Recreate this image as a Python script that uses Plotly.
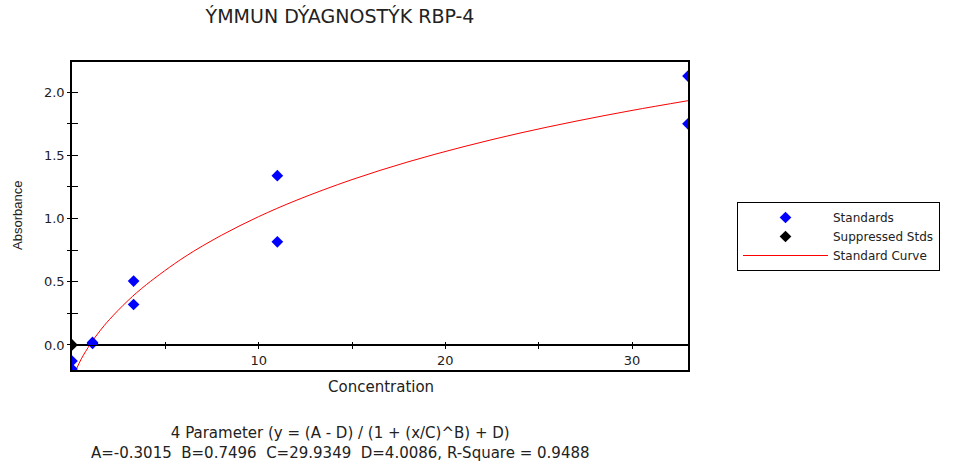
import plotly.graph_objects as go

# ---- data ----
std_x = [0, 0, 1.1, 1.1, 3.3, 3.3, 11, 11, 33, 33]
std_y = [-0.127, -0.190, 0.02, 0.012, 0.505, 0.32, 1.339, 0.816, 2.127, 1.749]

sup_x = [0]
sup_y = [0]

curve_x = [0.25, 0.5, 1, 1.5, 2, 3, 4, 6, 8, 10, 12, 15, 18, 21, 24, 27, 30, 33]
curve_y = [-0.186, -0.110, 0.011, 0.112, 0.200, 0.351, 0.479, 0.693, 0.867, 1.015,
           1.143, 1.308, 1.448, 1.569, 1.676, 1.770, 1.855, 1.932]

x_tickvals = [5, 10, 15, 20, 25, 30]
x_ticktext = ["", "10", "", "20", "", "30"]
y_tickvals = [0.0, 0.5, 1.0, 1.5, 2.0]
y_ticktext = ["0.0", "0.5", "1.0", "1.5", "2.0"]

title_text = "ÝMMUN DÝAGNOSTÝK RBP-4"
formula_text = ("4 Parameter (y = (A - D) / (1 + (x/C)^B) + D)<br>"
                "A=-0.3015  B=0.7496  C=29.9349  D=4.0086, R-Square = 0.9488")

XR = [0, 33]
YR = [-0.198, 2.238]
FONT = "DejaVu Sans, Verdana, sans-serif"
NARROW = "Liberation Sans, Arial, sans-serif"
TXT = "#222"

fig = go.Figure()
fig.add_trace(go.Scatter(x=curve_x, y=curve_y, mode="lines", name="Standard Curve",
                         line=dict(color="#FF0000", width=1, shape="spline"),
                         legendrank=3))
fig.add_trace(go.Scatter(x=std_x, y=std_y, mode="markers", name="Standards",
                         marker=dict(symbol="diamond", size=9, color="#0000FF"),
                         legendrank=1))
fig.add_trace(go.Scatter(x=sup_x, y=sup_y, mode="markers", name="Suppressed Stds",
                         marker=dict(symbol="diamond", size=9, color="#000000"),
                         legendrank=2))

pos0 = (0 - YR[0]) / (YR[1] - YR[0])

fig.update_layout(
    width=979, height=463, autosize=False,
    margin=dict(l=72, r=291, t=62, b=93),
    paper_bgcolor="white", plot_bgcolor="white",
    font=dict(family=FONT, size=13, color=TXT),
    title=dict(text=title_text, x=340 / 979, xanchor="center", xref="container",
               y=1 - 16 / 463, yanchor="middle", yref="container",
               font=dict(family=FONT, size=19, color=TXT)),
    xaxis=dict(range=XR, anchor="free", position=pos0, showgrid=False,
               showline=True, linecolor="black", linewidth=1,
               tickvals=x_tickvals, ticktext=x_ticktext,
               ticks="outside", ticklen=3, tickcolor="black",
               tickfont=dict(family=FONT, size=13, color=TXT), zeroline=False),
    xaxis2=dict(range=XR, overlaying="x", anchor="y", showgrid=False,
                showline=True, mirror=True, linecolor="black", linewidth=1.5,
                showticklabels=False, ticks="", zeroline=False),
    xaxis3=dict(range=XR, overlaying="x", anchor="free", position=pos0,
                showgrid=False, showline=False, tickvals=x_tickvals,
                showticklabels=False, ticks="inside", ticklen=3,
                tickcolor="black", zeroline=False),
    yaxis=dict(range=YR, showgrid=False, showline=True, mirror=True,
               linecolor="black", linewidth=1.5,
               tickvals=y_tickvals, ticktext=y_ticktext,
               ticks="outside", ticklen=3, tickcolor="black",
               minor=dict(tickvals=[0.25, 0.75, 1.25, 1.75], ticks="outside",
                          ticklen=3, tickcolor="black"),
               tickfont=dict(family=FONT, size=13, color=TXT),
               zeroline=True, zerolinecolor="black", zerolinewidth=1),
    yaxis2=dict(range=YR, overlaying="y", anchor="x", showgrid=False,
                showline=False, tickvals=[0, 0.25, 0.5, 0.75, 1.0, 1.25, 1.5, 1.75, 2.0],
                showticklabels=False, ticks="inside", ticklen=6,
                tickcolor="black", zeroline=False),
    legend=dict(x=(737 - 72) / 616, y=(370 - 202) / 308, xanchor="left", yanchor="top",
                bordercolor="black", borderwidth=1, bgcolor="white",
                font=dict(family=FONT, size=12, color=TXT),
                itemwidth=85, tracegroupgap=0, traceorder="normal"),
    showlegend=True,
)

# dummy traces to activate the auxiliary axes
fig.add_trace(go.Scatter(x=[None], y=[None], xaxis="x2", yaxis="y", showlegend=False, hoverinfo="skip"))
fig.add_trace(go.Scatter(x=[None], y=[None], xaxis="x3", yaxis="y2", showlegend=False, hoverinfo="skip"))

fig.add_annotation(text="Concentration", xref="paper", yref="paper",
                   x=(381 - 72) / 616, y=-16.5 / 307.7, xanchor="center", yanchor="middle",
                   showarrow=False, font=dict(family=FONT, size=15, color=TXT))
fig.add_annotation(text="Absorbance", xref="paper", yref="paper",
                   x=-55 / 616, y=0.5, xanchor="center", yanchor="middle",
                   textangle=-90, showarrow=False,
                   font=dict(family=NARROW, size=13, color=TXT))
fig.add_annotation(text=formula_text, xref="paper", yref="paper",
                   x=(340 - 72) / 616, y=-(443 - 370) / 307.7,
                   xanchor="center", yanchor="middle", align="center",
                   showarrow=False, font=dict(family=FONT, size=15, color=TXT))

fig.write_html("out.html")
